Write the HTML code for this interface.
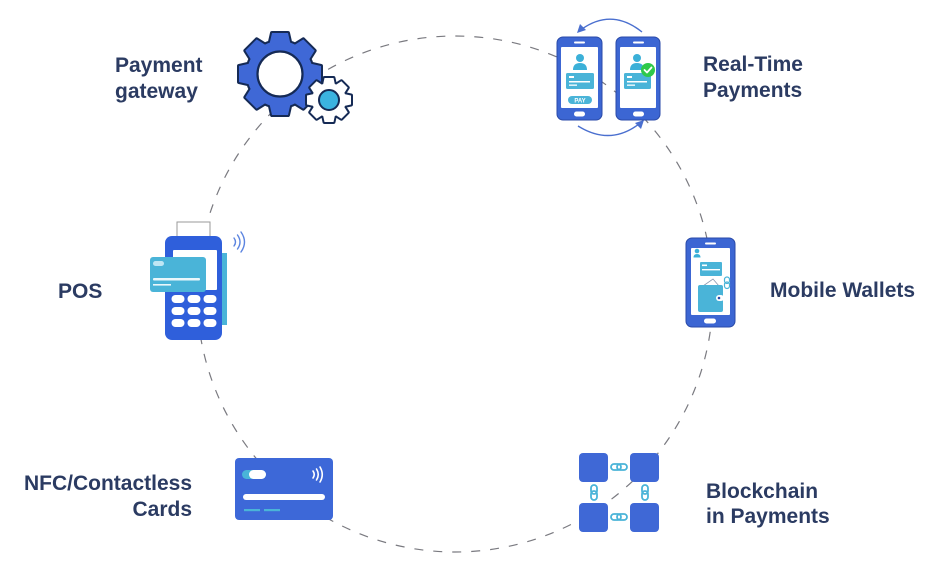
<!DOCTYPE html>
<html>
<head>
<meta charset="utf-8">
<style>
  html,body{margin:0;padding:0;background:#fff;}
  body{width:941px;height:577px;overflow:hidden;}
  svg{display:block;}
  .lbl{font-family:"Liberation Sans",sans-serif;font-weight:bold;font-size:21px;fill:#2b3b62;}
</style>
</head>
<body>
<svg width="941" height="577" viewBox="0 0 941 577" xmlns="http://www.w3.org/2000/svg">
  <!-- dashed circle -->
  <circle cx="455" cy="294" r="258" fill="none" stroke="#7a7a80" stroke-width="1.2" stroke-dasharray="9 10"/>

  <!-- ============ Payment gateway gears ============ -->
  <g>
    <g fill="#152a55" stroke="#152a55" stroke-width="4" stroke-linejoin="round">
      <circle cx="280" cy="74" r="33"/>
      <g transform="translate(280 74)">
        <polygon points="-10.5,-30 -8,-41 8,-41 10.5,-30" transform="rotate(0)"/>
        <polygon points="-10.5,-30 -8,-41 8,-41 10.5,-30" transform="rotate(45)"/>
        <polygon points="-10.5,-30 -8,-41 8,-41 10.5,-30" transform="rotate(90)"/>
        <polygon points="-10.5,-30 -8,-41 8,-41 10.5,-30" transform="rotate(135)"/>
        <polygon points="-10.5,-30 -8,-41 8,-41 10.5,-30" transform="rotate(180)"/>
        <polygon points="-10.5,-30 -8,-41 8,-41 10.5,-30" transform="rotate(225)"/>
        <polygon points="-10.5,-30 -8,-41 8,-41 10.5,-30" transform="rotate(270)"/>
        <polygon points="-10.5,-30 -8,-41 8,-41 10.5,-30" transform="rotate(315)"/>
      </g>
    </g>
    <g fill="#3f68d6">
      <circle cx="280" cy="74" r="33"/>
      <g transform="translate(280 74)">
        <polygon points="-10.5,-30 -8,-41 8,-41 10.5,-30" transform="rotate(0)"/>
        <polygon points="-10.5,-30 -8,-41 8,-41 10.5,-30" transform="rotate(45)"/>
        <polygon points="-10.5,-30 -8,-41 8,-41 10.5,-30" transform="rotate(90)"/>
        <polygon points="-10.5,-30 -8,-41 8,-41 10.5,-30" transform="rotate(135)"/>
        <polygon points="-10.5,-30 -8,-41 8,-41 10.5,-30" transform="rotate(180)"/>
        <polygon points="-10.5,-30 -8,-41 8,-41 10.5,-30" transform="rotate(225)"/>
        <polygon points="-10.5,-30 -8,-41 8,-41 10.5,-30" transform="rotate(270)"/>
        <polygon points="-10.5,-30 -8,-41 8,-41 10.5,-30" transform="rotate(315)"/>
      </g>
    </g>
    <circle cx="280" cy="74" r="22.5" fill="#fff" stroke="#152a55" stroke-width="2.2"/>

    <g fill="#152a55" stroke="#152a55" stroke-width="4" stroke-linejoin="round">
      <circle cx="329" cy="100" r="17"/>
      <g transform="translate(329 100)">
        <polygon points="-6,-15 -4.5,-22 4.5,-22 6,-15" transform="rotate(0)"/>
        <polygon points="-6,-15 -4.5,-22 4.5,-22 6,-15" transform="rotate(45)"/>
        <polygon points="-6,-15 -4.5,-22 4.5,-22 6,-15" transform="rotate(90)"/>
        <polygon points="-6,-15 -4.5,-22 4.5,-22 6,-15" transform="rotate(135)"/>
        <polygon points="-6,-15 -4.5,-22 4.5,-22 6,-15" transform="rotate(180)"/>
        <polygon points="-6,-15 -4.5,-22 4.5,-22 6,-15" transform="rotate(225)"/>
        <polygon points="-6,-15 -4.5,-22 4.5,-22 6,-15" transform="rotate(270)"/>
        <polygon points="-6,-15 -4.5,-22 4.5,-22 6,-15" transform="rotate(315)"/>
      </g>
    </g>
    <g fill="#fff">
      <circle cx="329" cy="100" r="17"/>
      <g transform="translate(329 100)">
        <polygon points="-6,-15 -4.5,-22 4.5,-22 6,-15" transform="rotate(0)"/>
        <polygon points="-6,-15 -4.5,-22 4.5,-22 6,-15" transform="rotate(45)"/>
        <polygon points="-6,-15 -4.5,-22 4.5,-22 6,-15" transform="rotate(90)"/>
        <polygon points="-6,-15 -4.5,-22 4.5,-22 6,-15" transform="rotate(135)"/>
        <polygon points="-6,-15 -4.5,-22 4.5,-22 6,-15" transform="rotate(180)"/>
        <polygon points="-6,-15 -4.5,-22 4.5,-22 6,-15" transform="rotate(225)"/>
        <polygon points="-6,-15 -4.5,-22 4.5,-22 6,-15" transform="rotate(270)"/>
        <polygon points="-6,-15 -4.5,-22 4.5,-22 6,-15" transform="rotate(315)"/>
      </g>
    </g>
    <circle cx="329" cy="100" r="10" fill="#3bb3e0" stroke="#152a55" stroke-width="2"/>
  </g>

  <!-- ============ Real-Time Payments phones ============ -->
  <g>
    <path d="M642 32 Q612 8 582 29" fill="none" stroke="#4a6fcf" stroke-width="1.4"/>
    <polygon points="577,33 580,24 586,30" fill="#4a6fcf"/>
    <path d="M578 126 Q610 146 639 124" fill="none" stroke="#4a6fcf" stroke-width="1.4"/>
    <polygon points="644,120 641,129 635,123" fill="#4a6fcf"/>

    <rect x="557" y="37" width="45" height="83" rx="6" fill="#3c66d3" stroke="#2a4aa8" stroke-width="1"/>
    <rect x="561" y="47" width="37" height="61" rx="1" fill="#fff"/>
    <rect x="574" y="41.5" width="11" height="2" rx="1" fill="#fff"/>
    <rect x="574" y="111.5" width="11" height="5" rx="2.5" fill="#fff"/>
    <circle cx="580" cy="58" r="4" fill="#3bb0d8"/>
    <path d="M573 70 Q573 63 580 63 Q587 63 587 70 Z" fill="#3bb0d8"/>
    <rect x="566" y="73" width="28" height="16" rx="1.5" fill="#4ab4d8"/>
    <rect x="569" y="76" width="5" height="2" fill="#fff"/>
    <rect x="569" y="81" width="21" height="1.5" fill="#fff"/>
    <rect x="569" y="84.5" width="8" height="1.3" fill="#fff"/>
    <rect x="568" y="96" width="24" height="8" rx="4" fill="#4ab4d8"/>
    <text x="580" y="102.5" text-anchor="middle" font-family="Liberation Sans, sans-serif" font-weight="bold" font-size="6" fill="#fff">PAY</text>

    <rect x="616" y="37" width="44" height="83" rx="6" fill="#3c66d3" stroke="#2a4aa8" stroke-width="1"/>
    <rect x="620" y="47" width="36" height="61" rx="1" fill="#fff"/>
    <rect x="633" y="41.5" width="11" height="2" rx="1" fill="#fff"/>
    <rect x="633" y="111.5" width="11" height="5" rx="2.5" fill="#fff"/>
    <circle cx="637" cy="58" r="4" fill="#3bb0d8"/>
    <path d="M630 70 Q630 63 637 63 Q644 63 644 70 Z" fill="#3bb0d8"/>
    <rect x="624" y="73" width="27" height="16" rx="1.5" fill="#4ab4d8"/>
    <rect x="627" y="76" width="5" height="2" fill="#fff"/>
    <rect x="627" y="81" width="20" height="1.5" fill="#fff"/>
    <rect x="627" y="84.5" width="8" height="1.3" fill="#fff"/>
    <circle cx="648" cy="70" r="7" fill="#2fc94a"/>
    <path d="M644.5 70 L647 72.5 L651.5 67.5" fill="none" stroke="#fff" stroke-width="1.8" stroke-linecap="round" stroke-linejoin="round"/>
  </g>

  <!-- ============ POS terminal ============ -->
  <g>
    <rect x="177" y="222" width="33" height="22" fill="#fff" stroke="#9a9a9a" stroke-width="1"/>
    <rect x="222" y="253" width="5" height="72" fill="#4ab4d8"/>
    <rect x="165" y="236" width="57" height="104" rx="7" fill="#2f5fdb"/>
    <rect x="173" y="250" width="44" height="40" rx="1" fill="#fff"/>
    <rect x="150" y="257" width="56" height="35" rx="3" fill="#4ab4d8"/>
    <rect x="153" y="261" width="11" height="5" rx="2.5" fill="#bfe6f4"/>
    <rect x="153" y="278" width="47" height="2.5" rx="1" fill="#eaf7fb"/>
    <rect x="153" y="284" width="18" height="1.6" fill="#eaf7fb"/>
    <g fill="#fff">
      <rect x="171.5" y="295" width="13" height="8" rx="4"/>
      <rect x="187.5" y="295" width="13" height="8" rx="4"/>
      <rect x="203.5" y="295" width="13" height="8" rx="4"/>
      <rect x="171.5" y="307" width="13" height="8" rx="4"/>
      <rect x="187.5" y="307" width="13" height="8" rx="4"/>
      <rect x="203.5" y="307" width="13" height="8" rx="4"/>
      <rect x="171.5" y="319" width="13" height="8" rx="4"/>
      <rect x="187.5" y="319" width="13" height="8" rx="4"/>
      <rect x="203.5" y="319" width="13" height="8" rx="4"/>
    </g>
    <g fill="none" stroke="#5b84e0" stroke-width="1.4" stroke-linecap="round">
      <path d="M234 238 Q237 242 234 246"/>
      <path d="M237.5 235 Q242.5 242 237.5 249"/>
      <path d="M241 232 Q248 242 241 252"/>
    </g>
  </g>

  <!-- ============ Mobile wallet phone ============ -->
  <g>
    <rect x="686" y="238" width="49" height="89" rx="6" fill="#3c66d3" stroke="#2a4aa8" stroke-width="1"/>
    <rect x="691" y="248" width="39" height="67" rx="1" fill="#fff"/>
    <rect x="705" y="242.5" width="11" height="2" rx="1" fill="#fff"/>
    <rect x="704" y="318.5" width="12" height="5" rx="2.5" fill="#fff"/>
    <circle cx="697" cy="251" r="2.3" fill="#3bb0d8"/>
    <path d="M693.5 257.5 Q693.5 254 697 254 Q700.5 254 700.5 257.5 Z" fill="#3bb0d8"/>
    <rect x="700" y="262" width="22" height="14" rx="1" fill="#4ab4d8"/>
    <rect x="702" y="264.5" width="5" height="1.6" fill="#fff"/>
    <rect x="702" y="269" width="18" height="1.4" fill="#fff"/>
    <path d="M703 286 L713 279 L719 286 Z" fill="#fff" stroke="#8a98b0" stroke-width="0.8"/>
    <rect x="698" y="285" width="25" height="27" rx="2" fill="#4ab4d8"/>
    <rect x="716" y="295" width="8" height="6" rx="3" fill="#fff"/>
    <circle cx="719" cy="298" r="1.3" fill="#2a4aa8"/>
    <g fill="none" stroke="#4ab4d8" stroke-width="1.2">
      <rect x="724.5" y="277" width="5" height="6.5" rx="2.5"/>
      <rect x="724.5" y="282" width="5" height="6.5" rx="2.5"/>
    </g>
  </g>

  <!-- ============ Blockchain ============ -->
  <g>
    <g fill="#3f68d6">
      <rect x="579" y="453" width="29" height="29" rx="4"/>
      <rect x="630" y="453" width="29" height="29" rx="4"/>
      <rect x="579" y="503" width="29" height="29" rx="4"/>
      <rect x="630" y="503" width="29" height="29" rx="4"/>
    </g>
    <g fill="none" stroke="#4ab4d8" stroke-width="1.8">
      <rect x="611" y="464" width="10" height="6" rx="3"/>
      <rect x="617" y="464" width="10" height="6" rx="3"/>
      <rect x="611" y="514" width="10" height="6" rx="3"/>
      <rect x="617" y="514" width="10" height="6" rx="3"/>
      <rect x="591" y="485" width="6" height="9" rx="3"/>
      <rect x="591" y="491" width="6" height="9" rx="3"/>
      <rect x="642" y="485" width="6" height="9" rx="3"/>
      <rect x="642" y="491" width="6" height="9" rx="3"/>
    </g>
  </g>

  <!-- ============ NFC card ============ -->
  <g>
    <rect x="235" y="458" width="98" height="62" rx="4" fill="#3d68d8"/>
    <rect x="242" y="470" width="24" height="9" rx="4.5" fill="#4ab4d8"/>
    <rect x="249" y="470" width="17" height="9" rx="4.5" fill="#fff"/>
    <rect x="243" y="494" width="82" height="6" rx="3" fill="#fff"/>
    <rect x="244" y="509" width="16" height="2.2" fill="#4ab4d8"/>
    <rect x="264" y="509" width="16" height="2.2" fill="#4ab4d8"/>
    <g fill="none" stroke="#fff" stroke-width="1.6" stroke-linecap="round">
      <path d="M313 471 Q315.5 474.5 313 478"/>
      <path d="M316.5 469 Q320 474.5 316.5 480"/>
      <path d="M320 467 Q324.5 474.5 320 482"/>
    </g>
  </g>

  <!-- ============ Labels ============ -->
  <text class="lbl" x="115" y="72">Payment</text>
  <text class="lbl" x="115" y="98">gateway</text>

  <text class="lbl" x="703" y="71">Real-Time</text>
  <text class="lbl" x="703" y="97">Payments</text>

  <text class="lbl" x="58" y="298">POS</text>

  <text class="lbl" x="770" y="297">Mobile Wallets</text>

  <text class="lbl" x="192" y="490" text-anchor="end">NFC/Contactless</text>
  <text class="lbl" x="192" y="516" text-anchor="end">Cards</text>

  <text class="lbl" x="706" y="498">Blockchain</text>
  <text class="lbl" x="706" y="523">in Payments</text>
</svg>
</body>
</html>
